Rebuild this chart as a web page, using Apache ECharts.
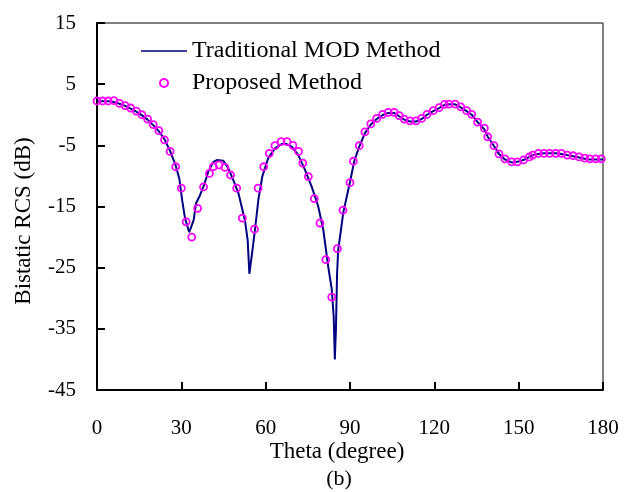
<!DOCTYPE html>
<html>
<head>
<meta charset="utf-8">
<script src="https://cdn.jsdelivr.net/npm/echarts@6/dist/echarts.min.js"></script>
<style>
html,body{margin:0;padding:0;background:#fff;}
#chart{width:632px;height:492px;}
</style>
</head>
<body>
<div id="chart"></div>
<script>
// Traditional MOD Method (solid line)
var lineTheta = [0,2,4,6,8,10,12,14,16,18,20,22,24,26,28,29.3,30.3,31.3,32.8,33.6,34.4,35.2,36.6,38,39.6,41.4,42.6,44.9,46.7,48.5,50.3,52.6,53.6,54.2,54.6,55.2,56.2,57.4,58.8,60.9,63.3,65.7,67.5,69.3,71.6,74,76.4,78.7,80.5,82.3,83.5,84.2,84.6,85.0,85.4,85.8,86.8,87.6,88.8,90,91.5,93.3,95.3,97.4,99.5,101.6,103.6,105.7,107.5,109.3,111.3,113.5,115.5,117.4,119.6,121.7,123.6,125.5,127.4,129.4,131.5,133.3,135.4,137.8,139,141.2,143,145.1,147.5,149.5,151.7,153.8,155,157,159,161,163.2,165.2,167.3,169.4,171.5,173.5,175.3,177.4,180];
var lineRCS = [2.2,2.2,2.2,2.1,1.8,1.45,1.0,0.5,-0.1,-0.8,-1.7,-2.7,-4.0,-5.9,-8.3,-10.5,-14.0,-16.9,-19.2,-18.2,-17.2,-14.5,-13.2,-11.6,-9.3,-7.7,-7.4,-7.5,-8.75,-10.7,-12.8,-17.2,-20.5,-26.0,-26.2,-22.5,-18.8,-13.9,-10.1,-7.1,-5.5,-4.8,-4.8,-5.2,-6.6,-9.0,-11.8,-15.0,-18.8,-25.0,-28.5,-33.0,-40.0,-35.0,-26.0,-22.1,-18.8,-16.0,-13.5,-11.0,-7.6,-5.2,-3.0,-1.6,-0.7,-0.05,0.3,0.3,-0.25,-0.8,-1.1,-1.1,-0.7,0.0,0.6,1.1,1.6,1.7,1.7,1.2,0.6,0.0,-1.2,-2.4,-3.6,-5.1,-6.4,-7.3,-7.8,-7.7,-7.4,-6.9,-6.6,-6.4,-6.3,-6.3,-6.3,-6.4,-6.6,-6.8,-7.0,-7.2,-7.3,-7.3,-7.3];

// Proposed Method (hollow markers)
var markTheta = [0,2,4,6,8,10,12,14,16,18,20,22,24,26,28,30,31.7,33.7,35.8,37.9,40,41.4,43.4,45.5,47.5,49.7,51.7,56,57.3,59.3,61.3,63.3,65.5,67.6,69.7,71.7,73.2,75.2,77.3,79.3,81.4,83.5,85.5,87.5,90,91.2,93.3,95.3,97.4,99.5,101.6,103.6,105.7,107.5,109.3,111.3,113.5,115.5,117.4,119.6,121.7,123.6,125.2,127.4,129.4,131.5,133.3,135.4,137.8,139,141.2,143,145.1,147.5,149.5,151.7,153.8,155,157,159,161,163.2,165.2,167.3,169.4,171.5,173.5,175.3,177.4,179.4];
var markRCS = [2.25,2.25,2.25,2.3,1.85,1.5,1.1,0.6,0.0,-0.7,-1.6,-2.6,-4.1,-6.0,-8.5,-12.0,-17.5,-20.0,-15.3,-11.8,-9.6,-8.5,-8.2,-8.6,-9.85,-12.0,-16.9,-18.7,-12.0,-8.5,-6.3,-5.05,-4.4,-4.4,-5.0,-6.0,-7.9,-10.1,-13.7,-17.7,-23.7,-29.8,-21.9,-15.6,-11.1,-7.6,-5.05,-2.8,-1.5,-0.6,0.07,0.4,0.4,-0.15,-0.7,-1.0,-1.0,-0.6,0.05,0.66,1.15,1.7,1.75,1.75,1.3,0.66,0.07,-1.2,-2.2,-3.6,-5.05,-6.4,-7.2,-7.7,-7.7,-7.4,-6.9,-6.6,-6.3,-6.3,-6.3,-6.3,-6.3,-6.6,-6.7,-6.9,-7.1,-7.2,-7.2,-7.2];

var xTicks = {min: 0, max: 180, step: 30};
var yTicks = {min: -45, max: 15, step: 10};
var seriesNames = ['Traditional MOD Method', 'Proposed Method'];
var xTitle = 'Theta (degree)';
var yTitle = 'Bistatic RCS (dB)';
var subCaption = '(b)';

var FONT = "'Liberation Serif', 'Times New Roman', serif";

function zip(a, b) { return a.map(function (v, i) { return [v, b[i]]; }); }

var chart = echarts.init(document.getElementById('chart'), null, {renderer: 'canvas'});
chart.setOption({
  animation: false,
  backgroundColor: '#fff',
  grid: {left: 97, right: 29, top: 23, bottom: 102, show: true, borderColor: '#000', borderWidth: 1, containLabel: false},
  xAxis: {
    type: 'value', min: xTicks.min, max: xTicks.max, interval: xTicks.step,
    axisLine: {show: true, onZero: false, lineStyle: {color: '#000', width: 2}},
    axisTick: {show: true, inside: true, length: 8, lineStyle: {color: '#000', width: 2}},
    axisLabel: {color: '#000', fontFamily: FONT, fontSize: 21, margin: 28},
    splitLine: {show: false}
  },
  yAxis: {
    type: 'value', min: yTicks.min, max: yTicks.max, interval: yTicks.step,
    axisLine: {show: true, onZero: false, lineStyle: {color: '#000', width: 2}},
    axisTick: {show: true, inside: true, length: 8, lineStyle: {color: '#000', width: 2}},
    axisLabel: {color: '#000', fontFamily: FONT, fontSize: 21, margin: 21},
    splitLine: {show: false}
  },
  legend: {
    orient: 'vertical', left: 136, top: 34, itemWidth: 46, itemHeight: 8, itemGap: 8,
    textStyle: {color: '#000', fontFamily: FONT, fontSize: 24},
    data: [
      {name: seriesNames[0], icon: 'path://M0,0M0,8M0,3.2L46,3.2L46,4.8L0,4.8Z', itemStyle: {color: '#000080'}},
      {name: seriesNames[1], icon: 'circle', itemStyle: {color: 'rgba(0,0,0,0)', borderColor: '#ff00ff', borderWidth: 2}}
    ]
  },
  graphic: [
    {type: 'text', x: 24, y: 221, rotation: Math.PI / 2,
     style: {text: yTitle, font: "23px " + FONT, fill: '#000', align: 'center', verticalAlign: 'middle'}},
    {type: 'text', x: 337, y: 452,
     style: {text: xTitle, font: "23px " + FONT, fill: '#000', align: 'center', verticalAlign: 'middle'}},
    {type: 'text', x: 339, y: 479,
     style: {text: subCaption, font: "22px " + FONT, fill: '#000', align: 'center', verticalAlign: 'middle'}}
  ],
  series: [
    {
      name: seriesNames[0], type: 'line', data: zip(lineTheta, lineRCS),
      symbol: 'none', showSymbol: false, smooth: false,
      lineStyle: {color: '#000080', width: 2}, itemStyle: {color: '#000080'}, z: 2
    },
    {
      name: seriesNames[1], type: 'scatter', data: zip(markTheta, markRCS),
      symbol: 'circle', symbolSize: 7,
      itemStyle: {color: 'rgba(0,0,0,0)', borderColor: '#ff00ff', borderWidth: 1.8, opacity: 1}, z: 3
    }
  ]
});
</script>
</body>
</html>
